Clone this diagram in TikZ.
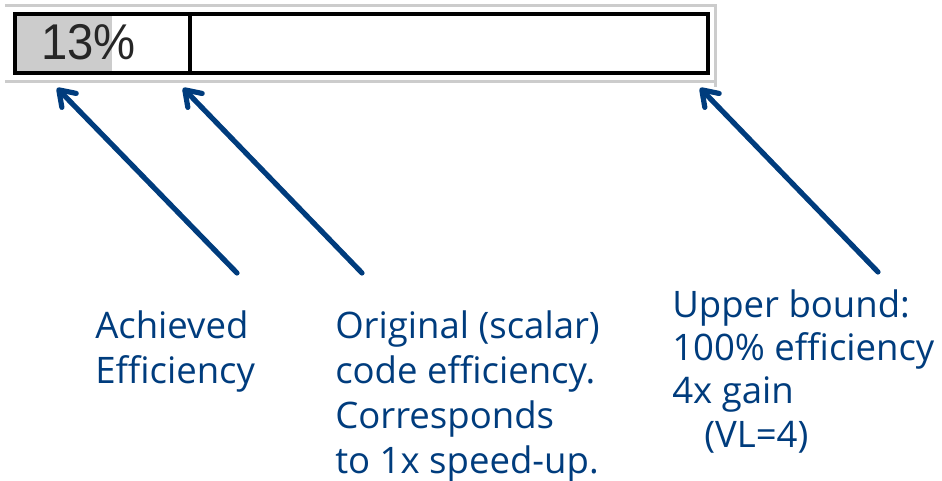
\documentclass[tikz,border=0pt]{standalone}
\usepackage{fontspec}
\setmainfont{Open Sans}
\newfontfamily\barfont{Liberation Sans}
\usetikzlibrary{arrows.meta,positioning}
\definecolor{pointerblue}{RGB}{0,60,125}
\definecolor{rulegray}{RGB}{204,204,204}

\begin{document}
\begin{tikzpicture}
  [x=0.75pt,y=-0.75pt,
   pointer/.style={draw=pointerblue,line width=3.9pt,line cap=round,
     -{Straight Barb[length=11pt,width=15pt,round]}},
   label/.style={anchor=base west,inner sep=0pt,text=pointerblue,align=left,
     font=\fontsize{27.4}{33.75}\selectfont}]
  \useasboundingbox (0,0) rectangle (942,481);

  % gray frame round the bar
  \fill[rulegray] (5,4) rectangle (717,7);
  \fill[rulegray] (5,80) rectangle (717,83);
  \fill[rulegray] (714,4) rectangle (717,87);

  % the bar itself
  \fill[rulegray] (17,16) rectangle (112,71);
  \node[anchor=base west,inner sep=0pt,text=black!85,
    font=\barfont\fontsize{37.7}{37.7}\selectfont,xscale=0.94] (pct) at (41,60) {13\%};
  \draw[line width=3pt] (15,14) rectangle (708,73.5);
  \draw[line width=3pt] (190,14) -- (190,73.5);

  % tips and tails of the pointers
  \coordinate (tipA) at (57,88);
  \coordinate (tipB) at (183,88);
  \coordinate (tipC) at (700,88);
  \coordinate (tailA) at (237,273);
  \coordinate (tailB) at (362,273);
  \coordinate (tailC) at (878,272);

  % base anchor sits on the last line
  \node[label] (achieved) at (95,383) {Achieved\\Efficiency};
  \node[label] (scalar) at (335,473) {Original (scalar)\\code efficiency.\\Corresponds\\to 1x speed-up.};
  \node[label,font=\fontsize{27.4}{32.5}\selectfont] (bound) at (672,447)
    {Upper bound:\\100\% efficiency\\4x gain\\\hspace*{24pt}(VL=4)};

  \foreach \from/\to in {tailA/tipA,tailB/tipB,tailC/tipC}
    \draw[pointer] (\from) -- (\to);

\end{tikzpicture}
\end{document}
